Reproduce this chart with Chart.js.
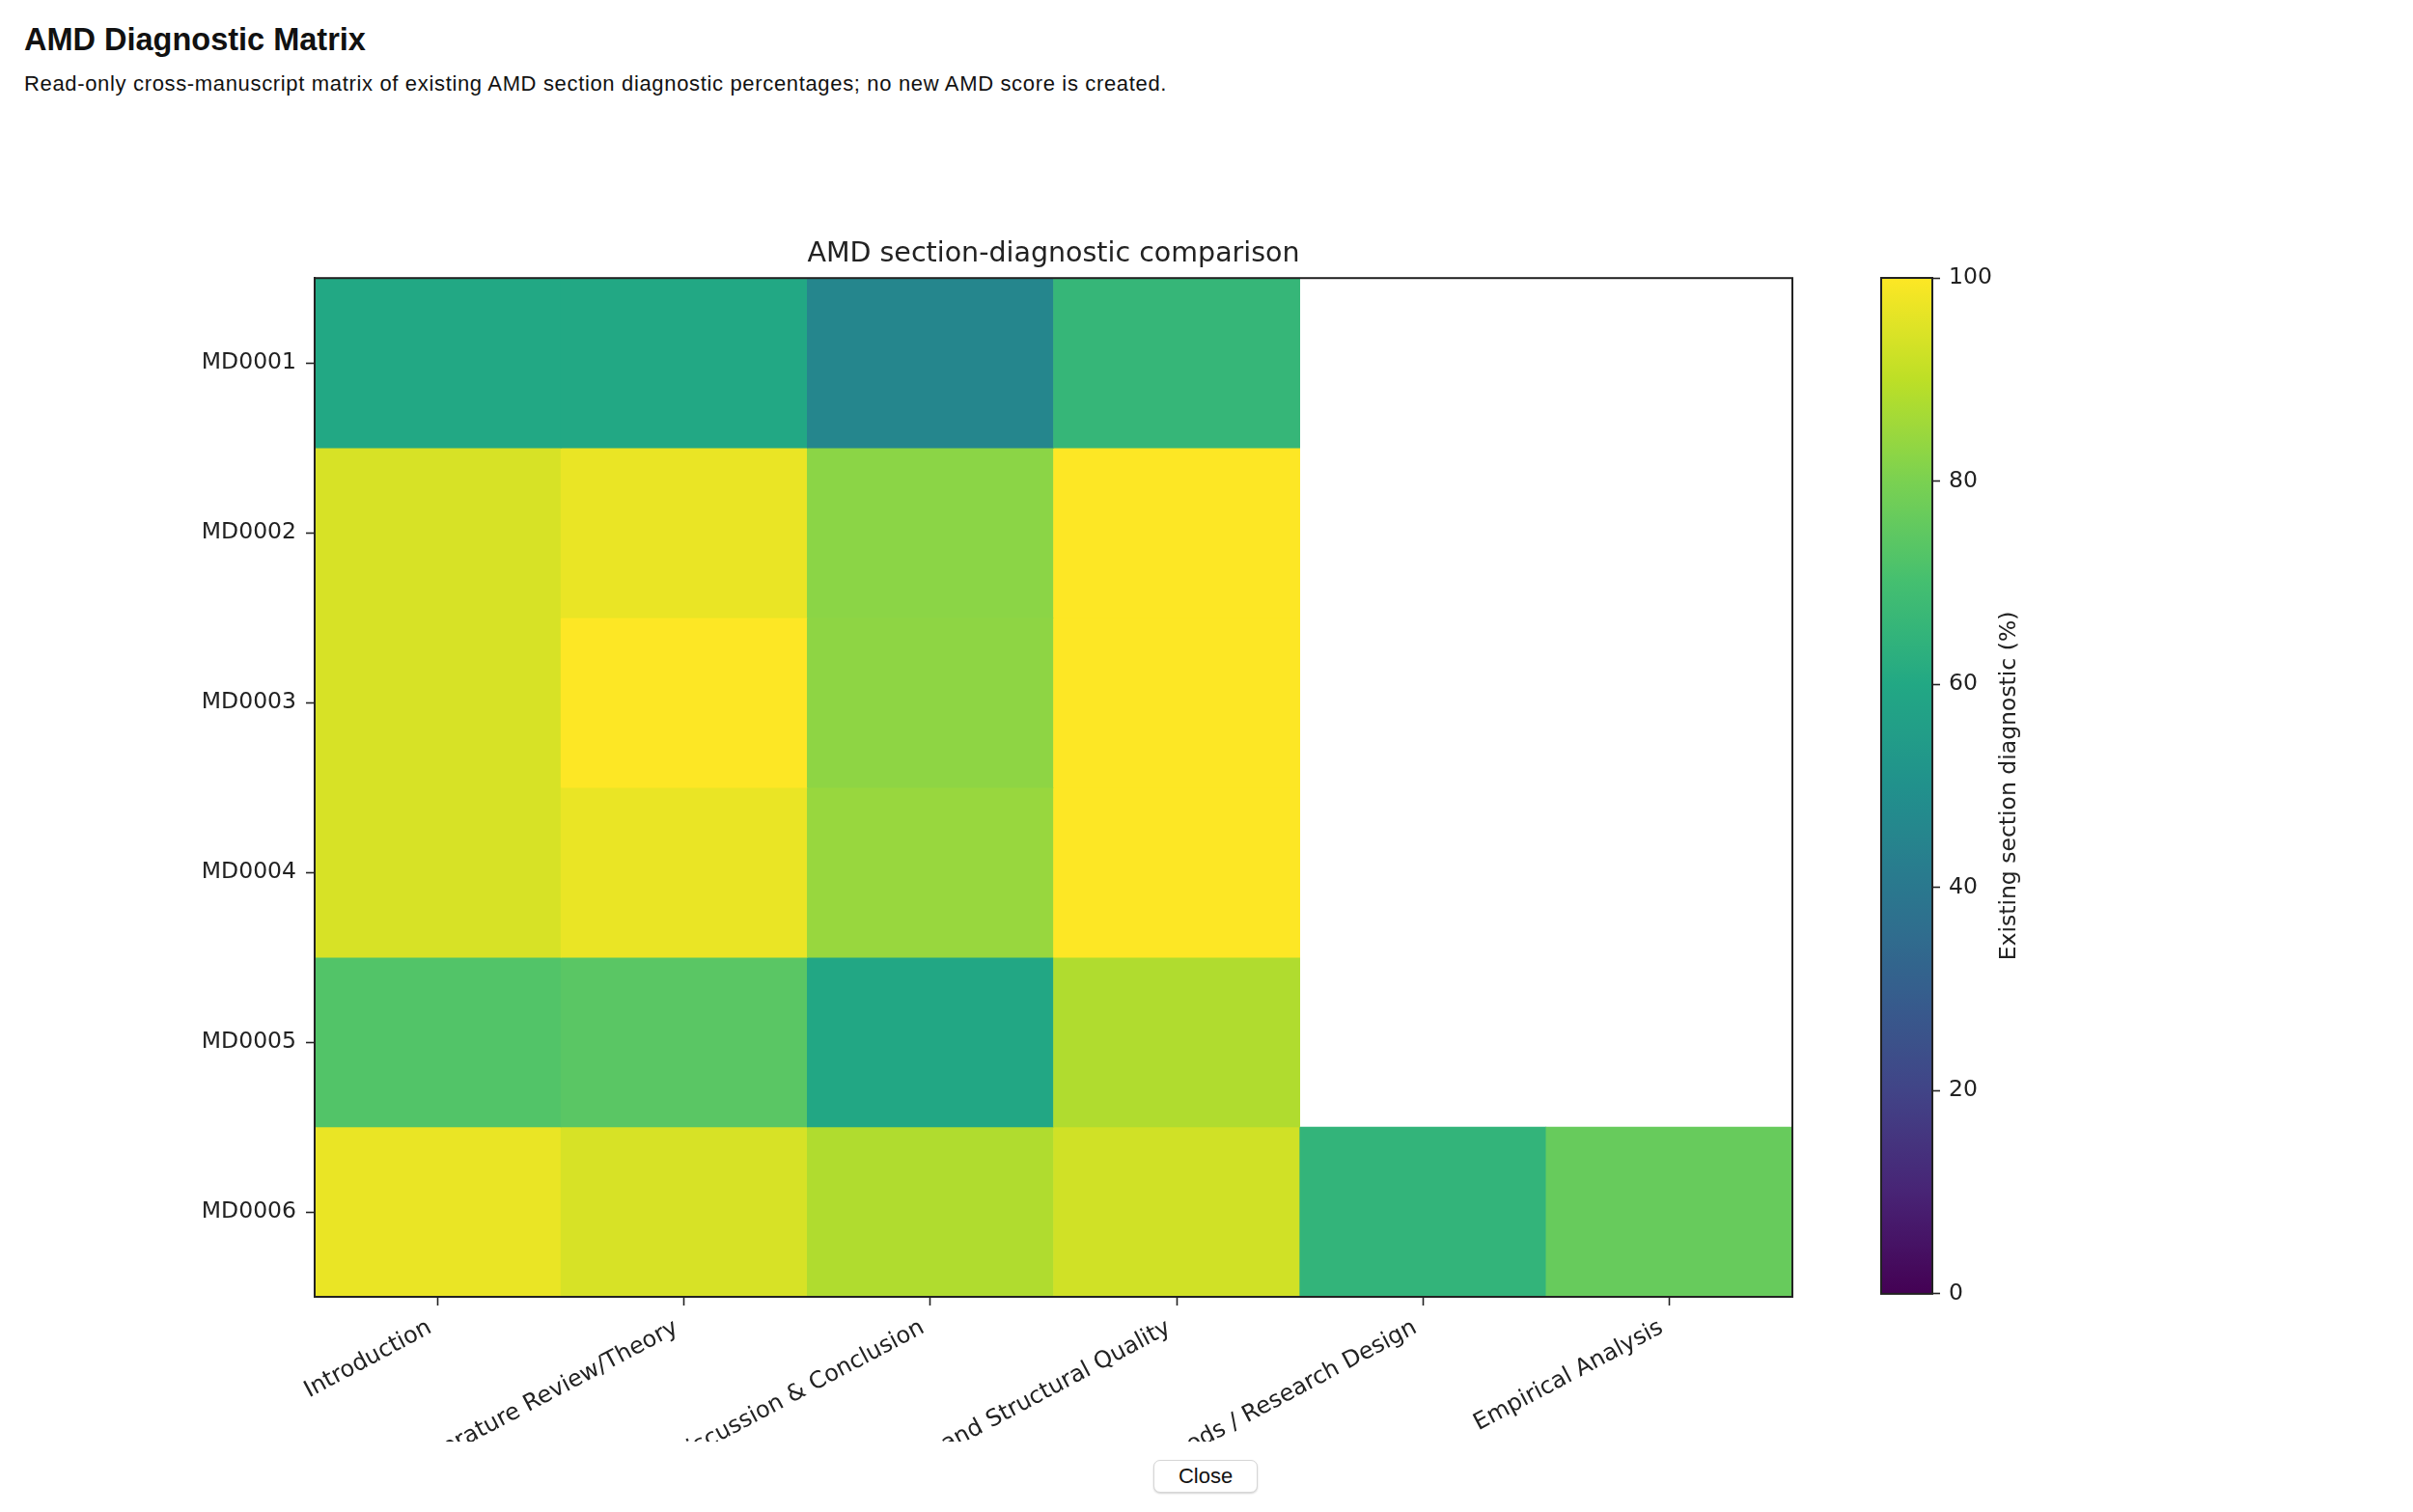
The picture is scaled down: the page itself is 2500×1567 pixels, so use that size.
<!DOCTYPE html>
<html>
<head>
<meta charset="utf-8">
<title>AMD Diagnostic Matrix</title>
<script src="https://cdn.jsdelivr.net/npm/chart.js@4.4.1/dist/chart.umd.min.js"></script>
<style>
  html, body { margin: 0; padding: 0; background: #fff; }
  body { width: 2500px; height: 1567px; position: relative; overflow: hidden; font-family: "Liberation Sans", Arial, sans-serif; color: #111; }
  #page-title { position: absolute; left: 25px; top: 25px; font-size: 32.5px; line-height: 1; font-weight: bold; margin: 0; }
  #page-sub { position: absolute; left: 25px; top: 76px; font-size: 22px; letter-spacing: 0.66px; line-height: 1; margin: 0; }
  #clip { position: absolute; left: 0; top: 240px; width: 1900px; height: 1254px; overflow: hidden; }
  #matrix { position: absolute; left: 0; top: 0; }
  #cbar { position: absolute; left: 1897px; top: 240px; }
  #close { position: absolute; left: 1195px; top: 1513px; width: 108px; height: 34px; box-sizing: border-box; font-family: "Liberation Sans", Arial, sans-serif; font-size: 22px; background: #fff; border: 1px solid #d6d6d6; border-radius: 7px; box-shadow: 0 1px 2px rgba(0,0,0,0.18); color: #111; padding: 0; }
</style>
</head>
<body>
<h1 id="page-title">AMD Diagnostic Matrix</h1>
<p id="page-sub">Read-only cross-manuscript matrix of existing AMD section diagnostic percentages; no new AMD score is created.</p>
<div id="clip"><canvas id="matrix" width="1867" height="1354" style="width:1867px;height:1354px"></canvas></div>
<canvas id="cbar" width="300" height="1124" style="width:300px;height:1124px"></canvas>
<button id="close">Close</button>

<script>
// columns and rows of the matrix
const sections = ['Introduction', 'Literature Review/Theory', 'Discussion & Conclusion',
  'Language and Structural Quality', 'Methods / Research Design', 'Empirical Analysis'];
const manuscripts = ['MD0001', 'MD0002', 'MD0003', 'MD0004', 'MD0005', 'MD0006'];

// section diagnostic % per manuscript (null = section not present)
const md0001 = [60, 60, 45.5, 66, null, null];
const md0002 = [94, 97, 82.5, 100, null, null];
const md0003 = [94, 100, 83, 100, null, null];
const md0004 = [94, 97, 84.5, 100, null, null];
const md0005 = [72.5, 74, 59.5, 88, null, null];
const md0006 = [97, 94, 88, 93, 65, 76.5];
const rowValues = [md0001, md0002, md0003, md0004, md0005, md0006];

const colorbarTicks = [0, 20, 40, 60, 80, 100];

const VIRIDIS = ['#440154', '#482475', '#414487', '#355f8d', '#2a788e', '#21918c',
  '#22a884', '#44bf70', '#7ad151', '#bddf26', '#fde725'];

function hexRgb(h) {
  return [parseInt(h.slice(1, 3), 16), parseInt(h.slice(3, 5), 16), parseInt(h.slice(5, 7), 16)];
}
function viridis(t) {
  t = Math.max(0, Math.min(1, t));
  const p = t * (VIRIDIS.length - 1);
  const i = Math.min(Math.floor(p), VIRIDIS.length - 2);
  const f = p - i;
  const a = hexRgb(VIRIDIS[i]), b = hexRgb(VIRIDIS[i + 1]);
  const c = a.map((v, k) => Math.round(v + (b[k] - v) * f));
  return 'rgb(' + c.join(',') + ')';
}

const FONT = 'DejaVu Sans';
const INK = '#222';

const frame = {
  id: 'frame',
  afterDraw(chart) {
    const a = chart.chartArea, ctx = chart.ctx;
    ctx.save();
    ctx.strokeStyle = INK;
    ctx.lineWidth = 2;
    ctx.strokeRect(a.left, a.top, a.right - a.left, a.bottom - a.top);
    ctx.restore();
  }
};

new Chart(document.getElementById('matrix'), {
  type: 'bar',
  data: {
    labels: sections,
    datasets: manuscripts.map((name, r) => ({
      label: name,
      data: rowValues[r].map(v => v == null ? null : [r - 0.5, r + 0.5]),
      backgroundColor: rowValues[r].map(v => v == null ? 'rgba(0,0,0,0)' : viridis(v / 100)),
      borderWidth: 0,
      grouped: false,
      barPercentage: 1,
      categoryPercentage: 1
    }))
  },
  options: {
    responsive: false,
    animation: false,
    devicePixelRatio: 1,
    layout: { padding: { top: 6, right: 10, left: 0, bottom: 0 } },
    plugins: {
      legend: { display: false },
      tooltip: { enabled: false },
      title: {
        display: true,
        fullSize: false,
        text: 'AMD section-diagnostic comparison',
        color: INK,
        font: { family: FONT, size: 28.5, weight: 'normal' },
        padding: { top: 0, bottom: 8 }
      }
    },
    scales: {
      x: {
        type: 'category',
        offset: true,
        grid: { offset: false, drawOnChartArea: false, drawTicks: true, tickLength: 9, tickColor: INK, tickWidth: 1.6 },
        border: { display: true, color: INK, width: 2 },
        ticks: { autoSkip: false, minRotation: 28, maxRotation: 28, padding: 9, labelOffset: -8, color: INK, font: { family: FONT, size: 24 } },
        afterFit(s) { s.height = 250; }
      },
      y: {
        type: 'linear',
        min: -0.5,
        max: 5.5,
        reverse: true,
        afterBuildTicks(s) { s.ticks = manuscripts.map((_, i) => ({ value: i })); },
        grid: { drawOnChartArea: false, drawTicks: true, tickLength: 9, tickColor: INK, tickWidth: 1.6 },
        border: { display: true, color: INK, width: 2 },
        ticks: { padding: 10, color: INK, font: { family: FONT, size: 23.5 }, callback: v => manuscripts[v] },
        afterFit(s) { s.width = 326; }
      }
    }
  },
  plugins: [frame]
});

// colour bar
const cbLabel = {
  id: 'cbLabel',
  afterDraw(chart) {
    const a = chart.chartArea, ctx = chart.ctx;
    ctx.save();
    ctx.translate(a.right + 80, (a.top + a.bottom) / 2);
    ctx.rotate(-Math.PI / 2);
    ctx.fillStyle = INK;
    ctx.font = '23.5px "' + FONT + '"';
    ctx.textAlign = 'center';
    ctx.textBaseline = 'middle';
    ctx.fillText('Existing section diagnostic (%)', 0, 0);
    ctx.restore();
  }
};

new Chart(document.getElementById('cbar'), {
  type: 'bar',
  data: {
    labels: [''],
    datasets: [{
      data: [[colorbarTicks[0], colorbarTicks[colorbarTicks.length - 1]]],
      backgroundColor(c) {
        const area = c.chart.chartArea;
        if (!area) return '#21918c';
        const g = c.chart.ctx.createLinearGradient(0, area.bottom, 0, area.top);
        for (let k = 0; k <= 40; k++) g.addColorStop(k / 40, viridis(k / 40));
        return g;
      },
      borderWidth: 0,
      barPercentage: 1,
      categoryPercentage: 1
    }]
  },
  options: {
    responsive: false,
    animation: false,
    devicePixelRatio: 1,
    layout: { padding: { top: 48, right: 0, left: 52, bottom: 20 } },
    plugins: { legend: { display: false }, tooltip: { enabled: false } },
    scales: {
      x: { display: false },
      y: {
        position: 'right',
        min: 0,
        max: 100,
        afterBuildTicks(s) { s.ticks = colorbarTicks.map(v => ({ value: v })); },
        grid: { drawOnChartArea: false, drawTicks: true, tickLength: 8, tickColor: INK, tickWidth: 1.6 },
        border: { display: true, color: INK, width: 2 },
        ticks: { padding: 9, color: INK, font: { family: FONT, size: 23.5 } },
        afterFit(s) { s.width = 195; }
      }
    }
  },
  plugins: [frame, cbLabel]
});
</script>
</body>
</html>
